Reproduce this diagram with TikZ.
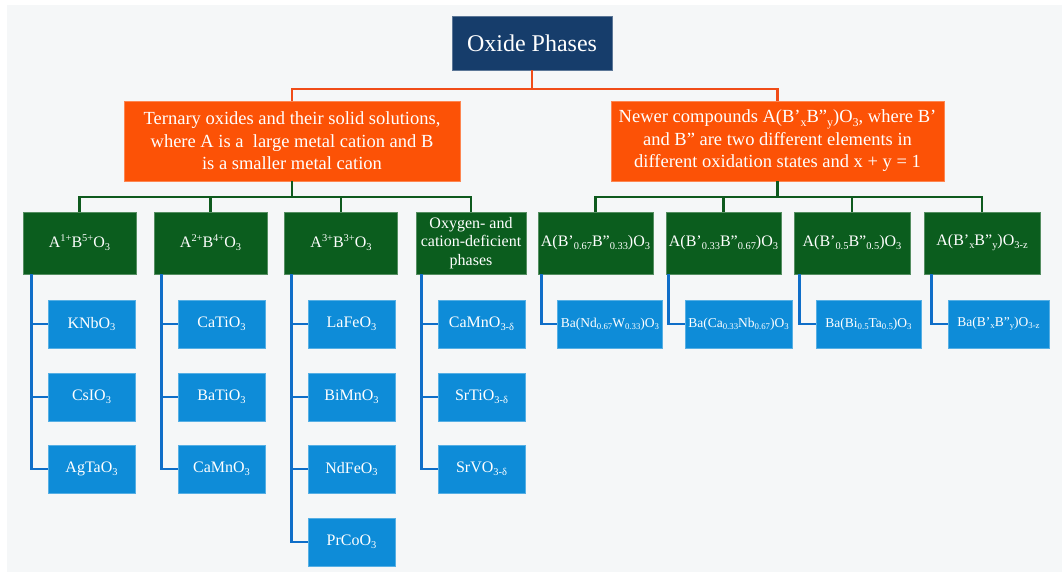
\documentclass[tikz,border=0pt]{standalone}
\usepackage{fontspec}
\setmainfont{Liberation Serif}

\definecolor{navybox}{RGB}{22,61,107}
\definecolor{orangebox}{RGB}{252,82,6}
\definecolor{orangeline}{RGB}{240,76,24}
\definecolor{greenbox}{RGB}{11,93,30}
\definecolor{greenline}{RGB}{14,90,30}
\definecolor{bluebox}{RGB}{14,140,216}
\definecolor{blueline}{RGB}{15,110,200}
\definecolor{paper}{RGB}{245,247,248}

\newcommand{\chup}[1]{\raisebox{0.8ex}{\scalebox{0.65}{#1}}}
\newcommand{\chdn}[1]{\raisebox{-0.4ex}{\scalebox{0.65}{#1}}}

\tikzset{
  tbox/.style={text=white, align=center, inner sep=2pt},
  topbox/.style={tbox, fill=navybox, draw=navybox!70!white, minimum width=160pt, minimum height=54pt, font=\fontsize{24}{28}\selectfont},
  redbox/.style={tbox, fill=orangebox, draw=orangebox!70!white, minimum height=80pt, font=\fontsize{18.5}{22.5}\selectfont},
  grnbox/.style={tbox, fill=greenbox, draw=greenbox!70!white, minimum height=62pt, font=\fontsize{16}{18.5}\selectfont},
  blubox/.style={tbox, fill=bluebox, draw=bluebox!70!white, minimum height=48pt, font=\fontsize{16}{18}\selectfont},
  redline/.style={draw=orangeline, line width=2.5pt},
  grnline/.style={draw=greenline, line width=2.5pt},
  bluline/.style={draw=blueline, line width=2.8pt}
}

\begin{document}
\begin{tikzpicture}[x=1pt, y=-1pt]
\useasboundingbox (0,0) rectangle (1062,572);
\fill[white] (0,0) rectangle (1062,572);
\fill[paper] (7,5) rectangle (1062,572);

% top levels
\node[topbox] (root) at (532,43) {Oxide Phases};
\node[redbox, minimum width=336pt] (ter) at (292,141)
  {Ternary oxides and their solid solutions,\\where A is a \ large metal cation and B\\is a smaller metal cation};
\node[redbox, minimum width=333pt] (new) at (777.5,141)
  {Newer compounds A(B’\chdn{x}B”\chdn{y})O\chdn{3}, where B’\\and B” are two different elements in\\different oxidation states and x + y = 1};

\draw[redline] (root.south) -- ++(0,19) -| (ter.north);
\draw[redline] (root.south) -- ++(0,19) -| (new.north);

% families
\node[grnbox, minimum width=113pt] (g1) at (79.5,243) {A\chup{1+}B\chup{5+}O\chdn{3}};
\node[grnbox, minimum width=113pt] (g2) at (210.5,243) {A\chup{2+}B\chup{4+}O\chdn{3}};
\node[grnbox, minimum width=113pt] (g3) at (341,243) {A\chup{3+}B\chup{3+}O\chdn{3}};
\node[grnbox, minimum width=110pt] (g4) at (471,243) {Oxygen- and\\cation-deficient\\phases};
\node[grnbox, minimum width=115pt] (g5) at (595.5,243) {A(B’\chdn{0.67}B”\chdn{0.33})O\chdn{3}};
\node[grnbox, minimum width=115pt] (g6) at (723.5,243) {A(B’\chdn{0.33}B”\chdn{0.67})O\chdn{3}};
\node[grnbox, minimum width=116pt] (g7) at (852,243) {A(B’\chdn{0.5}B”\chdn{0.5})O\chdn{3}};
\node[grnbox, minimum width=116pt] (g8) at (982,243) {A(B’\chdn{x}B”\chdn{y})O\chdn{3-z}};

\foreach \g in {g1,g2,g3,g4}
  \draw[grnline] (ter.south) -- ++(0,16) -| (\g.north);
\foreach \g in {g5,g6,g7,g8}
  \draw[grnline] (new.south) -- ++(0,16) -| (\g.north);

% compounds
\foreach \n/\x/\y/\t in {k1/91.5/324/KNbO\chdn{3}, k2/91.5/397/CsIO\chdn{3}, k3/91.5/469/AgTaO\chdn{3},
    c1/221.5/324/CaTiO\chdn{3}, c2/221.5/397/BaTiO\chdn{3}, c3/221.5/469/CaMnO\chdn{3},
    l1/351.5/324/LaFeO\chdn{3}, l2/351.5/397/BiMnO\chdn{3}, l3/351.5/469/NdFeO\chdn{3}, l4/351.5/542/PrCoO\chdn{3},
    o1/481.5/324/CaMnO\chdn{3-δ}, o2/481.5/397/SrTiO\chdn{3-δ}, o3/481.5/469/SrVO\chdn{3-δ}}
  \node[blubox, minimum width=87pt] (\n) at (\x,\y) {\t};

\node[blubox, minimum width=105pt, font=\fontsize{13.5}{16}\selectfont] (b5) at (610,324) {Ba(Nd\chdn{0.67}W\chdn{0.33})O\chdn{3}};
\node[blubox, minimum width=107pt, font=\fontsize{13.5}{16}\selectfont] (b6) at (738.5,324) {Ba(Ca\chdn{0.33}Nb\chdn{0.67})O\chdn{3}};
\node[blubox, minimum width=105pt, font=\fontsize{13.5}{16}\selectfont] (b7) at (868.5,324) {Ba(Bi\chdn{0.5}Ta\chdn{0.5})O\chdn{3}};
\node[blubox, minimum width=101pt, font=\fontsize{13.5}{16}\selectfont] (b8) at (998.5,324) {Ba(B’\chdn{x}B”\chdn{y})O\chdn{3-z}};

\foreach \g/\c in {g1/k1,g1/k2,g1/k3,g2/c1,g2/c2,g2/c3,g3/l1,g3/l2,g3/l3,g3/l4,
    g4/o1,g4/o2,g4/o3,g5/b5,g6/b6,g7/b7,g8/b8}
  \draw[bluline] ([xshift=-16pt]\c.west |- \g.south) |- (\c.west);

\end{tikzpicture}
\end{document}
